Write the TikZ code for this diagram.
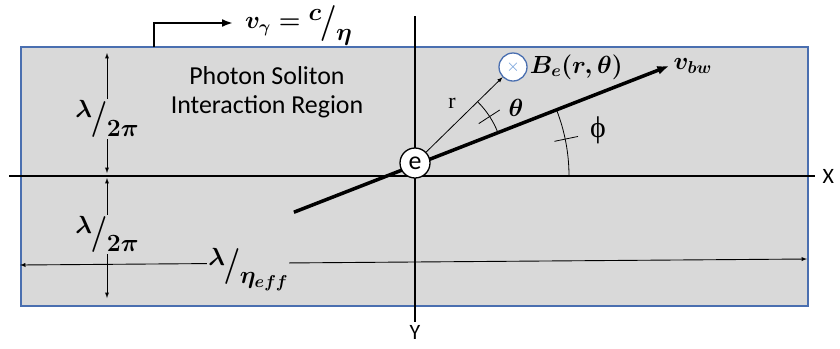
\documentclass[tikz,border=0pt]{standalone}
\usepackage{fontspec}
\setsansfont{Carlito}
\setmainfont{Liberation Serif}
\usepackage{graphicx}
\usepackage{xcolor}
\usetikzlibrary{positioning, arrows.meta, calc}

\definecolor{regiongray}{HTML}{D9D9D9}
\definecolor{edgeblue}{HTML}{4A6FB0}
\definecolor{crossblue}{HTML}{6A9AD8}
\newcommand{\slfrac}[2]{\raisebox{0.3em}{$#1$}\kern-0.05em\raisebox{-0.12em}{\scalebox{1.2}[1.45]{$/$}}\kern-0.02em\raisebox{-0.42em}{$#2$}}

\begin{document}
\begin{tikzpicture}[
  x=1bp, y=-1bp,
  font=\sffamily\fontsize{22}{29}\selectfont,
  >=latex,
  axis/.style={line width=1.3bp},
  fine/.style={line width=0.8bp},
  dim/.style={<->, line width=0.9bp},
  lbl/.style={fill=regiongray, inner sep=1bp, font=\fontsize{26}{26}\selectfont\boldmath},
  mlbl/.style={inner sep=0pt, font=\fontsize{27}{27}\selectfont\boldmath},
  dot/.style={circle, draw, fill=white, line width=1.3bp, inner sep=0pt}
]
  \useasboundingbox (0,0) rectangle (840,348);
  \draw[edgeblue, line width=1.5bp, fill=regiongray] (21,47) rectangle (808,306);

  \coordinate (origin) at (415,176);
  \coordinate (cross) at (387,176);
  \coordinate (ecenter) at (415,165);
  \draw[axis] (9,176) -- (815,176) coordinate (xend);
  \draw[axis] (415,16) -- (415,322) coordinate (yend);
  \node[right=4bp of xend] (xlbl) {X};
  \node[below=0bp of yend] (ylbl) {Y};

  \node[align=center, font=\sffamily\fontsize{26}{29}\selectfont] (region) at (267,92) {Photon Soliton\\Interaction Region};

  \coordinate (vstart) at (154,47);
  \coordinate (vtip) at (233,23);
  \draw[line width=2.5bp, -{Latex[length=11bp,width=8bp]}] (vstart) |- (vtip);
  \node[mlbl, right=12bp of vtip, yshift=-2bp] (vgamma) {$v_\gamma = \slfrac{c}{\eta}$};

  \draw[dim] (107,53) -- (107,173) node[lbl, pos=0.55] (upper) {$\slfrac{\lambda}{2\pi}$};
  \draw[dim] (107,178) -- (107,298) node[lbl, pos=0.47] (lower) {$\slfrac{\lambda}{2\pi}$};
  \draw[dim] (20,265) -- (807,259) node[lbl, pos=0.29, yshift=-6bp] (width) {$\slfrac{\lambda}{\eta_{eff}}$};

  \coordinate (bwstart) at ($(ecenter)+(158.7:130)$);
  \coordinate (bwtip) at ($(ecenter)+(-21.3:273)$);
  \draw[line width=3.5bp, -{Latex[length=12bp,width=9bp]}] (bwstart) -- (bwtip);
  \node[mlbl, right=4bp of bwtip] (vbw) {$v_{bw}$};

  \node[dot, minimum size=30bp, font=\sffamily\fontsize{26}{26}\selectfont] (e) at (415,163) {e};
  \node[dot, draw=edgeblue, minimum size=28bp] (bfield) at (513,67) {\fontsize{18}{18}\selectfont\textcolor{crossblue}{$\times$}};
  \node[mlbl, right=2bp of bfield] (blbl) {$B_e(r,\theta)$};

  \draw[fine, ->] (e) -- (bfield);
  \node[font=\rmfamily\fontsize{22}{22}\selectfont] (rlbl) at (452,103) {r};

  \draw[fine] ($(ecenter)+(-21.3:89)$) arc[start angle=-21.3, end angle=-45, radius=89];
  \draw[fine] ($(ecenter)+(-33:76)$) -- ($(ecenter)+(-33:101)$);
  \node[mlbl] (theta) at (516,108) {$\theta$};

  \draw[fine] ($(cross)+(0:182)$) arc[start angle=0, end angle=-21.3, radius=182];
  \draw[fine] ($(cross)+(-11.7:171)$) -- ($(cross)+(-11.7:195)$);
  \node[font=\fontsize{30}{30}\selectfont] (phi) at (598,130) {ϕ};
\end{tikzpicture}
\end{document}
